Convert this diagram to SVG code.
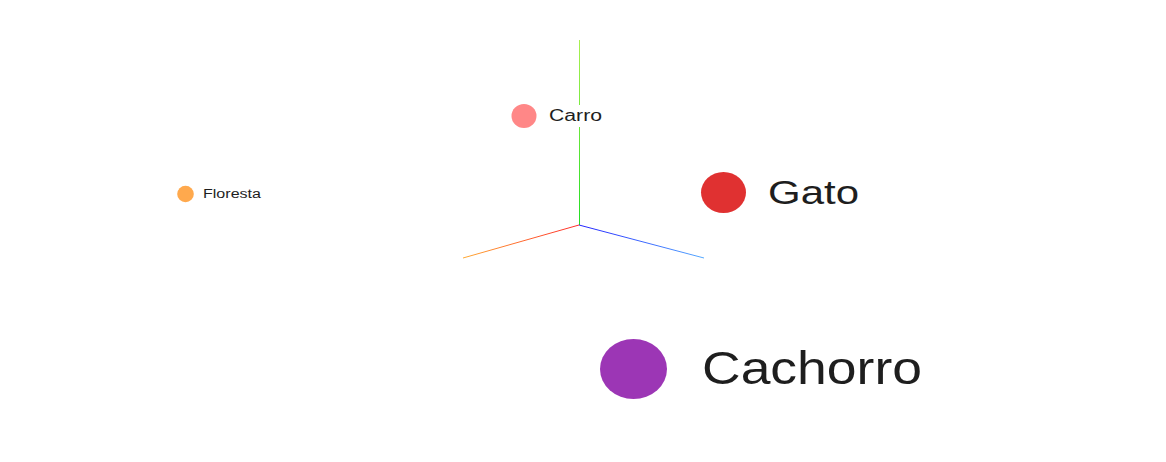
<svg xmlns="http://www.w3.org/2000/svg" width="1166" height="462" viewBox="0 0 1166 462">
<defs>
<linearGradient id="gy" gradientUnits="userSpaceOnUse" x1="579" y1="225" x2="579" y2="40">
<stop offset="0" stop-color="#22dd22"/><stop offset="1" stop-color="#aaf050"/>
</linearGradient>
<linearGradient id="gx" gradientUnits="userSpaceOnUse" x1="579" y1="225" x2="463" y2="258">
<stop offset="0" stop-color="#ff2a2a"/><stop offset="1" stop-color="#ffaa33"/>
</linearGradient>
<linearGradient id="gz" gradientUnits="userSpaceOnUse" x1="579" y1="225" x2="704" y2="258">
<stop offset="0" stop-color="#2222ff"/><stop offset="1" stop-color="#55aaff"/>
</linearGradient>
</defs>
<style>
.lbl{font-family:"Liberation Sans",Arial,sans-serif;fill:#1e1e1e;}
.ax{fill:none;stroke-width:1;}
</style>
<rect x="0" y="0" width="1166" height="462" fill="#ffffff"/>
<g id="connectors">
<line class="ax" x1="579.5" y1="225" x2="579.5" y2="40" stroke="url(#gy)"/>
<line class="ax" x1="579" y1="225" x2="463" y2="258" stroke="url(#gx)"/>
<line class="ax" x1="579" y1="225" x2="704" y2="258" stroke="url(#gz)"/>
</g>
<g id="carro">
<ellipse cx="524" cy="116" rx="12.5" ry="12" fill="#ff8787"/>
<rect x="546" y="105" width="59" height="22" fill="#ffffff"/>
<text class="lbl" x="549" y="121" font-size="16" textLength="53" lengthAdjust="spacingAndGlyphs">Carro</text>
</g>
<g id="gato">
<ellipse cx="723.5" cy="192.5" rx="22.5" ry="20.5" fill="#e03131"/>
<text class="lbl" x="768" y="204" font-size="33" textLength="91" lengthAdjust="spacingAndGlyphs">Gato</text>
</g>
<g id="cachorro">
<ellipse cx="633.5" cy="369" rx="33.5" ry="30" fill="#9c36b5"/>
<text class="lbl" x="702" y="384" font-size="46" textLength="220" lengthAdjust="spacingAndGlyphs">Cachorro</text>
</g>
<g id="floresta">
<circle cx="185.5" cy="194" r="8.3" fill="#ffa94d"/>
<text class="lbl" x="203" y="198" font-size="12.5" textLength="58" lengthAdjust="spacingAndGlyphs">Floresta</text>
</g>
</svg>
